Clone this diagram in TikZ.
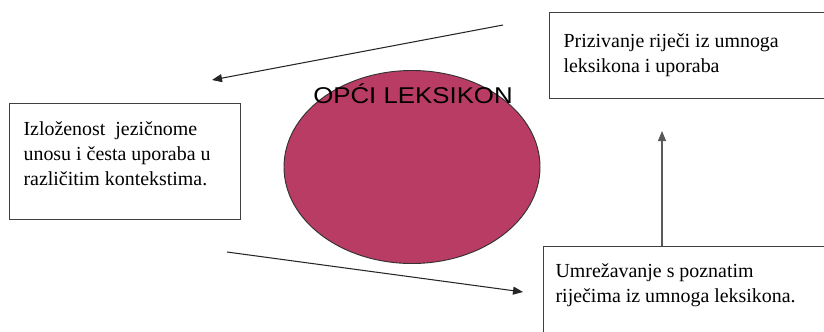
\documentclass[tikz,border=0pt]{standalone}
\usepackage{fontspec}
\setmainfont{Liberation Serif}
\newfontfamily\arialfont{Liberation Sans}
\usepackage{xcolor}
\usetikzlibrary{arrows.meta, positioning, shapes.geometric}
\definecolor{leksikon}{RGB}{184,60,100}
\tikzset{
    x=0.03cm, y=-0.03cm, % one unit is one pixel of the reference
    pojam/.style={draw=black!75, line width=1pt, anchor=north west, font=\fontsize{17pt}{21pt}\selectfont}, % the text boxes
    strelica/.style={draw=black!85, line width=0.9pt, -{Triangle[length=0.3cm, width=0.24cm]}}, % arrows
}

\begin{document}
\begin{tikzpicture}
        \useasboundingbox (0,0) rectangle (824,331);
        \clip (0,0) rectangle (824,331);

        % Elipsa (opci leksikon)
        \node[ellipse, draw=black!80, line width=0.8pt, fill=leksikon, minimum width=7.68cm, minimum height=5.79cm, inner sep=0pt] (leksikon) at (412,167) {};
        \node[anchor=base, inner sep=0pt, font=\arialfont\fontsize{19.5pt}{22pt}\selectfont] (naslov) at (413,103) {\scalebox{1.13}[1]{OPĆI LEKSIKON}};

        % Lijevi okvir
        \node[pojam, inner xsep=0.42cm, inner ysep=0.45cm] (izlozenost) at (9,103)
            {\parbox[c][2.58cm][t]{6.09cm}{\raggedright\strut Izloženost\ \ jezičnome\\ unosu i česta uporaba u\\ različitim kontekstima.}};

        % Gornji desni okvir
        \node[pojam, inner xsep=0.42cm, inner ysep=0.54cm] (prizivanje) at (549,12)
            {\parbox[c][1.5cm][t]{8.76cm}{\raggedright\strut Prizivanje riječi iz umnoga\\ leksikona i uporaba}};

        % Donji desni okvir
        \node[pojam, inner xsep=0.36cm, inner ysep=0.42cm] (umrezavanje) at (543,246)
            {\parbox[c][2.76cm][t]{8.88cm}{\raggedright\strut Umrežavanje s poznatim\\ riječima iz umnoga leksikona.}};

        % Strelice
        \coordinate (gore) at (503,25);
        \coordinate (lijevo) at (212,80);
        \coordinate (dolje) at (227,252);
        \coordinate (desno) at (523,292);
        \coordinate (vrh) at (662,131);
        \draw[strelica] (gore) -- (lijevo);
        \draw[strelica] (dolje) -- (desno);
        \draw[strelica, draw=black!65] (vrh |- umrezavanje.north) -- (vrh);
    \end{tikzpicture}
\end{document}
